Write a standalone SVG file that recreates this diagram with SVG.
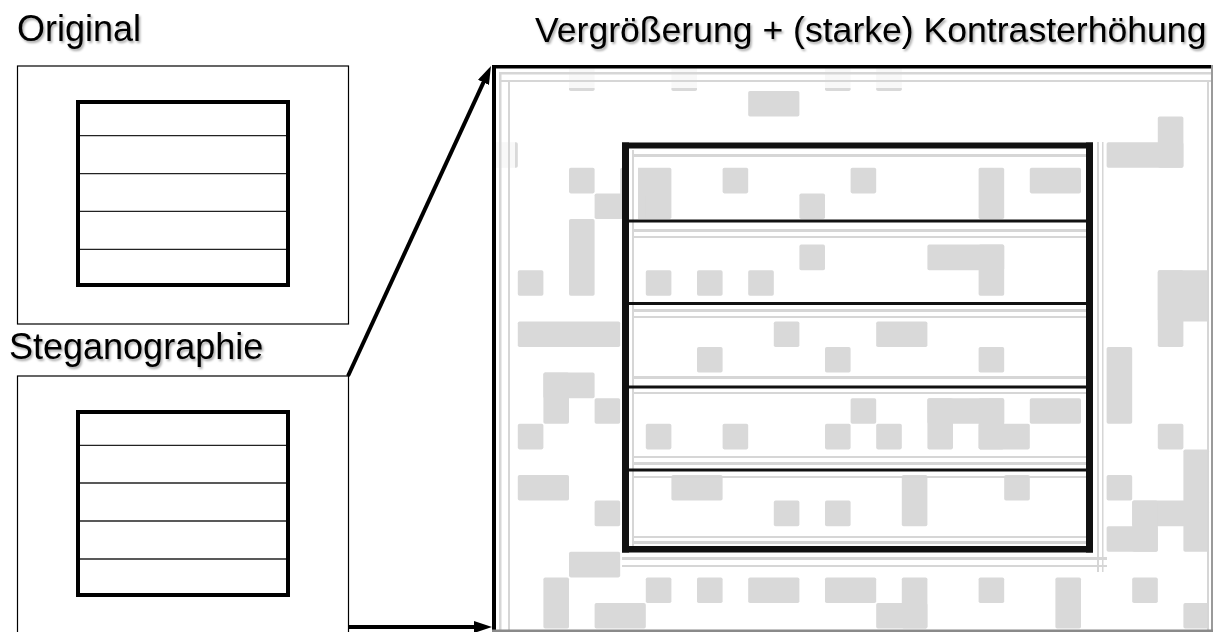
<svg xmlns="http://www.w3.org/2000/svg" width="1218" height="632" viewBox="0 0 1218 632">
  <defs>
    <filter id="shadow" x="-5%" y="-20%" width="110%" height="150%">
      <feDropShadow dx="1.5" dy="2" stdDeviation="1.3" flood-color="#000" flood-opacity="0.35"/>
    </filter>
    <marker id="arrow" markerUnits="userSpaceOnUse" markerWidth="18" markerHeight="12" refX="8" refY="6" orient="auto">
      <path d="M0,0 L18,6 L0,12 z" fill="#000"/>
    </marker>
    <style>
      .lbl { font-family: "Liberation Sans", Arial, sans-serif; font-size: 36px; fill: #000; filter: url(#shadow); }
      .box { fill: #fff; stroke: #000; stroke-width: 1.2; }
      .frame { fill: none; stroke: #000; stroke-width: 4; }
      .rule { stroke: #222; stroke-width: 1.3; }
      .cell { fill: #d9d9d9; }
      .strip { fill: #d6d6d6; }
      .conn { stroke: #000; stroke-width: 4; fill: none; marker-end: url(#arrow); }
    </style>
  </defs>
  <rect width="1218" height="632" fill="#fff"/>

  <!-- Labels -->
  <text class="lbl" x="17" y="41">Original</text>
  <text class="lbl" x="9" y="359">Steganographie</text>
  <text class="lbl" x="535" y="42" style="font-size:35.6px">Vergrößerung + (starke) Kontrasterhöhung</text>

  <!-- Original panel -->
  <g id="original">
    <rect class="box" x="17.5" y="66" width="331" height="258"/>
    <rect class="frame" x="78" y="102" width="210" height="183"/>
    <line class="rule" x1="80" y1="135.7" x2="286" y2="135.7"/>
    <line class="rule" x1="80" y1="173.7" x2="286" y2="173.7"/>
    <line class="rule" x1="80" y1="211.3" x2="286" y2="211.3"/>
    <line class="rule" x1="80" y1="249.3" x2="286" y2="249.3"/>
  </g>

  <!-- Steganographie panel -->
  <g id="stego">
    <rect class="box" x="17.5" y="376" width="331" height="262"/>
    <rect class="frame" x="78" y="412" width="210" height="183"/>
    <line class="rule" x1="80" y1="445.3" x2="286" y2="445.3"/>
    <line class="rule" x1="80" y1="483" x2="286" y2="483"/>
    <line class="rule" x1="80" y1="521" x2="286" y2="521"/>
    <line class="rule" x1="80" y1="559" x2="286" y2="559"/>
  </g>

  <!-- Enlarged, contrast-enhanced view -->
  <g id="enlarged">
    <g transform="translate(492.2,65.4) scale(25.6)">
      <g class="cell">
        <rect x="3" y="0" width="1" height="1" rx="0.07"/>
        <rect x="7" y="0" width="1" height="1" rx="0.07"/>
        <rect x="13" y="0" width="1" height="1" rx="0.07"/>
        <rect x="15" y="0" width="1" height="1" rx="0.07"/>
        <rect x="10" y="1" width="2" height="1" rx="0.07"/>
        <rect x="26" y="2" width="1" height="2" rx="0.07"/>
        <rect x="0" y="3" width="1" height="1" rx="0.07"/>
        <rect x="24" y="3" width="3" height="1" rx="0.07"/>
        <rect x="3" y="4" width="1" height="1" rx="0.07"/>
        <rect x="5" y="4" width="2" height="2" rx="0.07"/>
        <rect x="9" y="4" width="1" height="1" rx="0.07"/>
        <rect x="14" y="4" width="1" height="1" rx="0.07"/>
        <rect x="19" y="4" width="1" height="2" rx="0.07"/>
        <rect x="21" y="4" width="2" height="1" rx="0.07"/>
        <rect x="4" y="5" width="2" height="1" rx="0.07"/>
        <rect x="12" y="5" width="1" height="1" rx="0.07"/>
        <rect x="3" y="6" width="1" height="3" rx="0.07"/>
        <rect x="12" y="7" width="1" height="1" rx="0.07"/>
        <rect x="17" y="7" width="3" height="1" rx="0.07"/>
        <rect x="19" y="7" width="1" height="2" rx="0.07"/>
        <rect x="1" y="8" width="1" height="1" rx="0.07"/>
        <rect x="6" y="8" width="1" height="1" rx="0.07"/>
        <rect x="8" y="8" width="1" height="1" rx="0.07"/>
        <rect x="10" y="8" width="1" height="1" rx="0.07"/>
        <rect x="26" y="8" width="2" height="2" rx="0.07"/>
        <rect x="26" y="8" width="1" height="3" rx="0.07"/>
        <rect x="1" y="10" width="4" height="1" rx="0.07"/>
        <rect x="11" y="10" width="1" height="1" rx="0.07"/>
        <rect x="15" y="10" width="2" height="1" rx="0.07"/>
        <rect x="8" y="11" width="1" height="1" rx="0.07"/>
        <rect x="13" y="11" width="1" height="1" rx="0.07"/>
        <rect x="19" y="11" width="1" height="1" rx="0.07"/>
        <rect x="24" y="11" width="1" height="3" rx="0.07"/>
        <rect x="2" y="12" width="2" height="1" rx="0.07"/>
        <rect x="2" y="12" width="1" height="2" rx="0.07"/>
        <rect x="4" y="13" width="1" height="1" rx="0.07"/>
        <rect x="14" y="13" width="1" height="1" rx="0.07"/>
        <rect x="17" y="13" width="3" height="1" rx="0.07"/>
        <rect x="17" y="13" width="1" height="2" rx="0.07"/>
        <rect x="19" y="13" width="1" height="2" rx="0.07"/>
        <rect x="21" y="13" width="2" height="1" rx="0.07"/>
        <rect x="1" y="14" width="1" height="1" rx="0.07"/>
        <rect x="6" y="14" width="1" height="1" rx="0.07"/>
        <rect x="9" y="14" width="1" height="1" rx="0.07"/>
        <rect x="13" y="14" width="1" height="1" rx="0.07"/>
        <rect x="15" y="14" width="1" height="1" rx="0.07"/>
        <rect x="19" y="14" width="2" height="1" rx="0.07"/>
        <rect x="26" y="14" width="1" height="1" rx="0.07"/>
        <rect x="27" y="15" width="1" height="4" rx="0.07"/>
        <rect x="1" y="16" width="2" height="1" rx="0.07"/>
        <rect x="7" y="16" width="2" height="1" rx="0.07"/>
        <rect x="16" y="16" width="1" height="2" rx="0.07"/>
        <rect x="20" y="16" width="1" height="1" rx="0.07"/>
        <rect x="24" y="16" width="1" height="1" rx="0.07"/>
        <rect x="4" y="17" width="1" height="1" rx="0.07"/>
        <rect x="11" y="17" width="1" height="1" rx="0.07"/>
        <rect x="13" y="17" width="1" height="1" rx="0.07"/>
        <rect x="25" y="17" width="3" height="1" rx="0.07"/>
        <rect x="25" y="17" width="1" height="2" rx="0.07"/>
        <rect x="24" y="18" width="2" height="1" rx="0.07"/>
        <rect x="3" y="19" width="2" height="1" rx="0.07"/>
        <rect x="2" y="20" width="1" height="2" rx="0.07"/>
        <rect x="6" y="20" width="1" height="1" rx="0.07"/>
        <rect x="8" y="20" width="1" height="1" rx="0.07"/>
        <rect x="10" y="20" width="2" height="1" rx="0.07"/>
        <rect x="13" y="20" width="2" height="1" rx="0.07"/>
        <rect x="16" y="20" width="1" height="2" rx="0.07"/>
        <rect x="19" y="20" width="1" height="1" rx="0.07"/>
        <rect x="22" y="20" width="1" height="2" rx="0.07"/>
        <rect x="25" y="20" width="1" height="1" rx="0.07"/>
        <rect x="4" y="21" width="2" height="1" rx="0.07"/>
        <rect x="15" y="21" width="2" height="1" rx="0.07"/>
        <rect x="27" y="21" width="1" height="1" rx="0.07"/>
      </g>
    </g>

    <!-- halos of the outer border -->
    <rect x="495" y="68" width="716" height="20" fill="#fff" opacity="0.8"/>
    <rect x="495" y="68" width="20" height="564" fill="#fff" opacity="0.8"/>
    <g class="strip">
      <rect x="500" y="72" width="711" height="2.5"/>
      <rect x="500" y="80" width="711" height="2"/>
      <rect x="499" y="72" width="2.5" height="560"/>
      <rect x="508" y="80" width="2" height="552"/>
      <rect x="1207" y="80" width="2" height="552"/>
    </g>
    <rect x="492" y="65" width="721" height="3.5" fill="#000"/>
    <rect x="492" y="65" width="4" height="567" fill="#000"/>
    <rect x="1211" y="65" width="2" height="567" fill="#9a9a9a"/>
    <rect x="492" y="629.5" width="721" height="2.5" fill="#8a8a8a"/>

    <!-- halos of the inner frame -->
    <rect x="629" y="150" width="9" height="396" fill="#fff"/>
    <g class="strip">
      <rect x="633" y="154" width="453" height="3"/>
      <rect x="633" y="229" width="453" height="3"/>
      <rect x="633" y="236" width="453" height="2"/>
      <rect x="633" y="309" width="453" height="3"/>
      <rect x="633" y="316" width="453" height="2"/>
      <rect x="633" y="376" width="453" height="3"/>
      <rect x="633" y="392" width="453" height="2"/>
      <rect x="633" y="456" width="453" height="2"/>
      <rect x="633" y="462" width="453" height="3"/>
      <rect x="633" y="476" width="453" height="2"/>
      <rect x="633" y="536" width="453" height="2"/>
      <rect x="633" y="541" width="453" height="3"/>
      <rect x="622" y="557" width="485" height="3"/>
      <rect x="622" y="565" width="485" height="2"/>
      <rect x="632" y="150" width="2" height="396"/>
      <rect x="1097" y="142" width="2" height="430"/>
      <rect x="1102" y="142" width="1.5" height="430"/>
    </g>
    <rect x="622" y="142.5" width="471" height="6" fill="#111"/>
    <rect x="622" y="142.5" width="7" height="410" fill="#111"/>
    <rect x="1086" y="142.5" width="7" height="410" fill="#111"/>
    <rect x="622" y="546" width="471" height="6.5" fill="#111"/>
    <rect x="629" y="219.5" width="457" height="3" fill="#111"/>
    <rect x="629" y="302" width="457" height="3" fill="#111"/>
    <rect x="629" y="385.5" width="457" height="3" fill="#111"/>
    <rect x="629" y="468.5" width="457" height="3" fill="#111"/>
  </g>

  <!-- Connectors -->
  <g id="connectors">
    <line class="conn" x1="348" y1="376" x2="486.8" y2="75.1"/>
    <line class="conn" x1="349" y1="627" x2="482" y2="627"/>
  </g>
</svg>
